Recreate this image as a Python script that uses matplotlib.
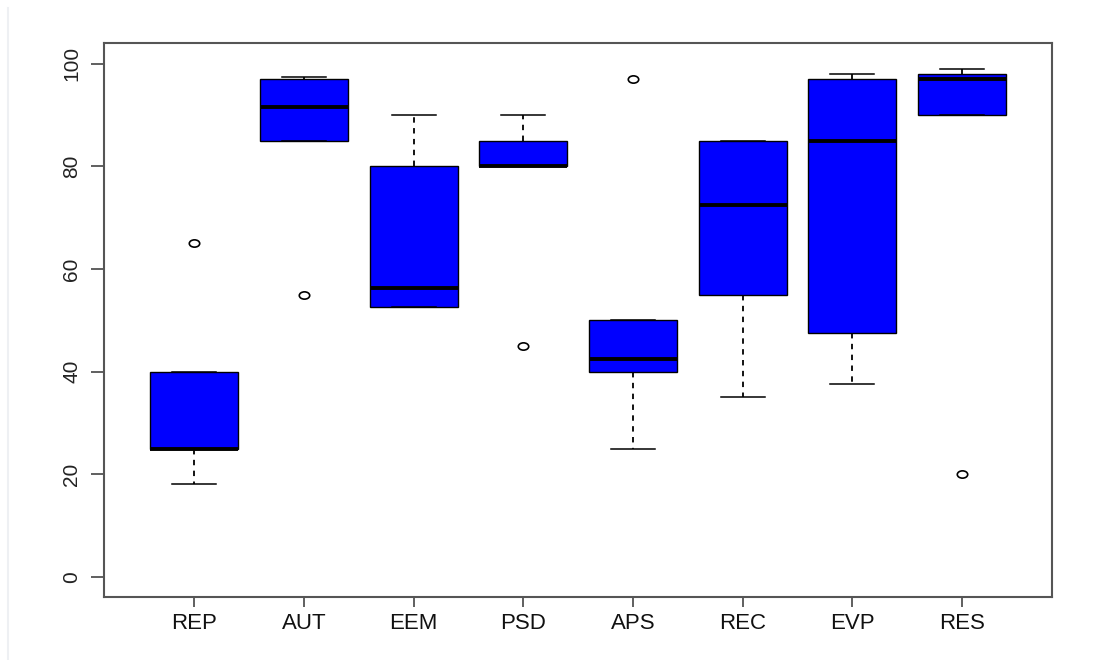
import matplotlib
matplotlib.use("Agg")
import matplotlib.pyplot as plt
import matplotlib.transforms as mtransforms
from matplotlib.path import Path
from matplotlib.lines import Line2D

# Box statistics
labels = ["REP", "AUT", "EEM", "PSD", "APS", "REC", "EVP", "RES"]
whis_lo = [18, 85, 52.5, 80, 25, 35, 37.5, 90]
q1 = [25, 85, 52.5, 80, 40, 55, 47.5, 90]
median = [25, 91.5, 56.2, 80, 42.5, 72.5, 85, 97]
q3 = [40, 97, 80, 85, 50, 85, 97, 98]
whis_hi = [40, 97.5, 90, 90, 50, 85, 98, 99]
outliers = [[65], [55], [], [45], [97], [], [], [20]]

stats = []
for i in range(len(labels)):
    stats.append({"label": labels[i], "whislo": whis_lo[i], "q1": q1[i],
                  "med": median[i], "q3": q3[i], "whishi": whis_hi[i],
                  "fliers": outliers[i]})

plt.rcParams['font.family'] = ['Liberation Sans', 'DejaVu Sans']

fig = plt.figure(figsize=(10.95, 6.6), dpi=100)
ax = fig.add_axes([0.0953, 0.095, 0.9607 - 0.0953, 0.9344 - 0.095])

# slightly flattened circle for the outliers, like in the picture
ell = Path.unit_circle().transformed(mtransforms.Affine2D().scale(1.0, 0.7))

ax.bxp(stats, positions=range(1, len(labels) + 1), widths=0.8,
       patch_artist=True, showfliers=True,
       boxprops=dict(facecolor="#0000ff", edgecolor="black", linewidth=1.0),
       medianprops=dict(color="black", linewidth=2.8, solid_capstyle="butt"),
       whiskerprops=dict(color="black", linewidth=1.3, linestyle=(0, (3, 3))),
       capprops=dict(color="black", linewidth=1.1),
       flierprops=dict(marker=ell, markersize=7.5, markerfacecolor="none",
                       markeredgecolor="black", markeredgewidth=1.2))

ax.set_xlim(0.18, 8.82)
ax.set_ylim(-4, 104)
ax.set_yticks([0, 20, 40, 60, 80, 100])
ax.set_xticks(range(1, len(labels) + 1))
ax.set_xticklabels(labels)

ax.tick_params(axis="y", labelrotation=90, length=9.5, width=1.2,
               color="#444444", labelsize=15, labelcolor="#222222", pad=7)
ax.tick_params(axis="x", length=7, width=1.2, color="#444444",
               labelsize=16, labelcolor="#111111", pad=4)
for lbl in ax.get_yticklabels():
    lbl.set_verticalalignment("center")

for sp in ax.spines.values():
    sp.set_color("#555555")
    sp.set_linewidth(1.5)

# faint border line on the left of the image
fig.add_artist(Line2D([0.0075, 0.0075], [0.0, 0.988], transform=fig.transFigure,
                      color="#eef0f3", linewidth=1.5))

fig.savefig("out.png", dpi=100)
